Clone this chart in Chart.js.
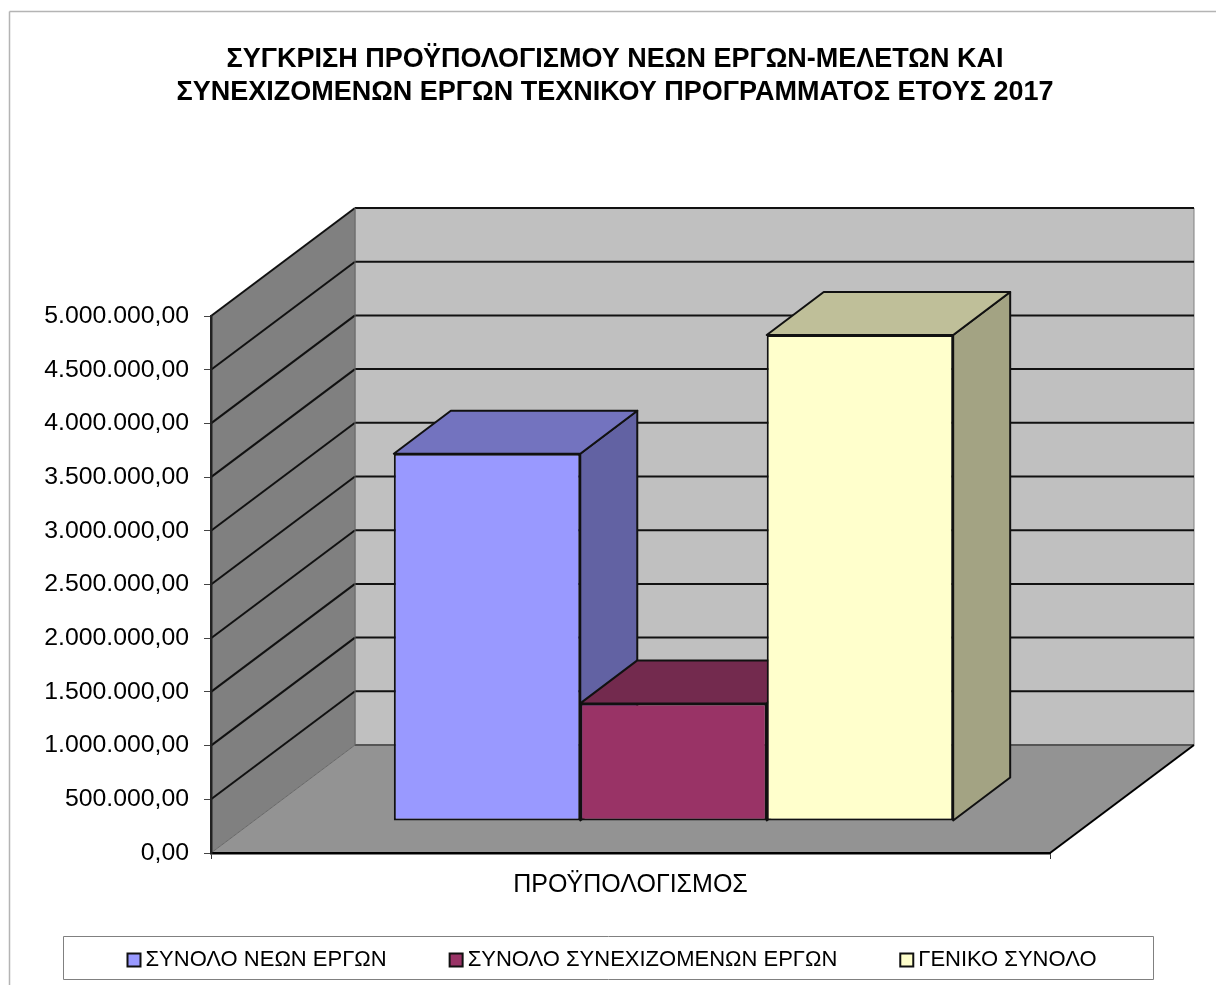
<!DOCTYPE html>
<html lang="el">
<head>
<meta charset="utf-8">
<title>Προϋπολογισμός 2017</title>
<script src="https://cdn.jsdelivr.net/npm/chart.js@4"></script>
<style>
  html, body { margin: 0; padding: 0; background: #fff; overflow: hidden; }
  canvas { display: block; }
</style>
</head>
<body>
<canvas id="budgetChart" width="1216" height="985"></canvas>
<script>
// Data
const categories = ['ΠΡΟΫΠΟΛΟΓΙΣΜΟΣ'];
const seriesNames = ['ΣΥΝΟΛΟ ΝΕΩΝ ΕΡΓΩΝ', 'ΣΥΝΟΛΟ ΣΥΝΕΧΙΖΟΜΕΝΩΝ ΕΡΓΩΝ', 'ΓΕΝΙΚΟ ΣΥΝΟΛΟ'];
const newWorks = [3420000];
const continuingWorks = [1095000];
const grandTotal = [4525000];
const titleLines = [
    'ΣΥΓΚΡΙΣΗ ΠΡΟΫΠΟΛΟΓΙΣΜΟΥ ΝΕΩΝ ΕΡΓΩΝ-ΜΕΛΕΤΩΝ ΚΑΙ',
    'ΣΥΝΕΧΙΖΟΜΕΝΩΝ ΕΡΓΩΝ ΤΕΧΝΙΚΟΥ ΠΡΟΓΡΑΜΜΑΤΟΣ ΕΤΟΥΣ 2017'
];

// Colours of the three bar faces
const frontColors = ['#9999ff', '#993366', '#ffffcc'];
const topColors = ['#7373bf', '#732a4e', '#bfbf99'];
const sideColors = ['#6262a3', '#622142', '#a3a383'];

const FONT = '"Liberation Sans", Arial, sans-serif';

// Depth of the fake 3D box
const WALL_DX = 144, WALL_DY = 108;
const BAR_SHIFT_X = 43, BAR_SHIFT_Y = 32;
const BAR_DX = 57, BAR_DY = 43;

function poly(ctx, pts, fill, stroke, width) {
    ctx.beginPath();
    pts.forEach((p, i) => i ? ctx.lineTo(p[0], p[1]) : ctx.moveTo(p[0], p[1]));
    ctx.closePath();
    if (fill) { ctx.fillStyle = fill; ctx.fill(); }
    if (stroke) { ctx.strokeStyle = stroke; ctx.lineWidth = width; ctx.stroke(); }
}

function line(ctx, x1, y1, x2, y2, color, width) {
    ctx.beginPath();
    ctx.moveTo(x1, y1);
    ctx.lineTo(x2, y2);
    ctx.strokeStyle = color;
    ctx.lineWidth = width;
    ctx.stroke();
}

const box3d = {
    id: 'box3d',
    // walls, floor and outer frames go under the axes
    beforeDraw(chart) {
        const ctx = chart.ctx;
        const a = chart.chartArea;
        const y = chart.scales.y;
        // the x label hangs below the fitted height, don't let it get clipped
        chart.scales.x.bottom = a.bottom + 60;
        ctx.save();
        line(ctx, 9.5, 11.5, 1216, 11.5, '#b4b4b4', 1.5);
        line(ctx, 9.5, 11.5, 9.5, 985, '#b4b4b4', 1.5);
        poly(ctx, [[63.5, 936.5], [1153.5, 936.5], [1153.5, 979.5], [63.5, 979.5]], '#fff', '#808080', 1);

        const bx = a.left + WALL_DX, dy = WALL_DY;
        const bxr = a.right + WALL_DX;
        poly(ctx, [[bx, a.top - dy], [bxr, a.top - dy], [bxr, a.bottom - dy], [bx, a.bottom - dy]], '#c0c0c0', '#808080', 1);
        poly(ctx, [[a.left, a.top], [bx, a.top - dy], [bx, a.bottom - dy], [a.left, a.bottom]], '#808080');
        poly(ctx, [[a.left, a.bottom], [bx, a.bottom - dy], [bxr, a.bottom - dy], [a.right, a.bottom]], '#939393');
        line(ctx, a.left, a.bottom, bx, a.bottom - dy, '#666', 1);
        line(ctx, bx, a.bottom - dy, bxr, a.bottom - dy, '#555', 2);
        line(ctx, a.right, a.bottom, bxr, a.bottom - dy, '#000', 2);

        y.ticks.forEach(t => {
            if (t.value === 0) return;
            const p = y.getPixelForValue(t.value);
            line(ctx, a.left, p, bx, p - dy, '#111', 2);
            line(ctx, bx, p - dy, bxr, p - dy, '#111', 2);
        });
        line(ctx, bx, a.bottom - dy, bx, a.top - dy, '#666', 1);
        ctx.restore();
    },
    // bars left to right: sides and tops first, then the library's own front face
    beforeDatasetsDraw(chart) {
        const ctx = chart.ctx;
        chart.data.datasets.forEach((ds, i) => {
            const meta = chart.getDatasetMeta(i);
            const bar = meta.data[0];
            const l = bar.x - bar.width / 2, r = bar.x + bar.width / 2;
            ctx.save();
            ctx.translate(BAR_SHIFT_X, -BAR_SHIFT_Y);
            ctx.lineJoin = 'round';
            poly(ctx, [[r, bar.y], [r + BAR_DX, bar.y - BAR_DY], [r + BAR_DX, bar.base - BAR_DY], [r, bar.base]], sideColors[i], '#111', 2);
            poly(ctx, [[l, bar.y], [l + BAR_DX, bar.y - BAR_DY], [r + BAR_DX, bar.y - BAR_DY], [r, bar.y]], topColors[i], '#111', 2);
            meta.controller.draw();
            ctx.restore();
        });
        return false;
    }
};

const ctx = document.getElementById('budgetChart').getContext('2d');
const budgetChart = new Chart(ctx, {
    type: 'bar',
    plugins: [box3d],
    data: {
        labels: categories,
        datasets: [newWorks, continuingWorks, grandTotal].map((values, i) => ({
            label: seriesNames[i],
            data: values,
            backgroundColor: frontColors[i],
            borderColor: '#111',
            borderWidth: 2,
            borderSkipped: false,
            categoryPercentage: 0.6667,
            barPercentage: 1
        }))
    },
    options: {
        responsive: false,
        animation: false,
        layout: { padding: { left: 14, right: 0, top: 0, bottom: 4 } },
        plugins: {
            tooltip: { enabled: false },
            title: {
                display: true,
                text: titleLines,
                color: '#000',
                font: { family: FONT, size: 27, weight: 'bold', lineHeight: 33 / 27 },
                padding: { top: 43, bottom: 207 }
            },
            legend: {
                position: 'bottom',
                labels: {
                    color: '#000',
                    font: { family: FONT, size: 22 },
                    // narrow point box keeps the text close to the square
                    usePointStyle: true,
                    pointStyle: 'rect',
                    boxWidth: 1,
                    boxHeight: 13,
                    padding: 69
                }
            }
        },
        scales: {
            x: {
                offset: true,
                border: { color: '#000', width: 2.5 },
                grid: { drawOnChartArea: false, drawTicks: true, tickLength: 6, color: '#333' },
                ticks: { color: '#000', font: { family: FONT, size: 25 }, padding: 11 },
                afterFit(scale) { scale.height = 27; }
            },
            y: {
                min: 0,
                max: 5000000,
                border: { color: '#222', width: 2.5 },
                grid: { drawOnChartArea: false, drawTicks: true, tickLength: 7, color: '#444' },
                ticks: {
                    stepSize: 500000,
                    color: '#000',
                    padding: 15,
                    font: { family: FONT, size: 24.8 },
                    callback: v => v.toLocaleString('el-GR', { minimumFractionDigits: 2, maximumFractionDigits: 2 })
                },
                afterFit(scale) { scale.width = 197; }
            },
            // empty axis, only keeps the room at the right of the plot
            margin: {
                position: 'right',
                grid: { display: false },
                border: { display: false },
                ticks: { display: false },
                afterFit(scale) { scale.width = 166; }
            }
        }
    }
});
</script>
</body>
</html>
